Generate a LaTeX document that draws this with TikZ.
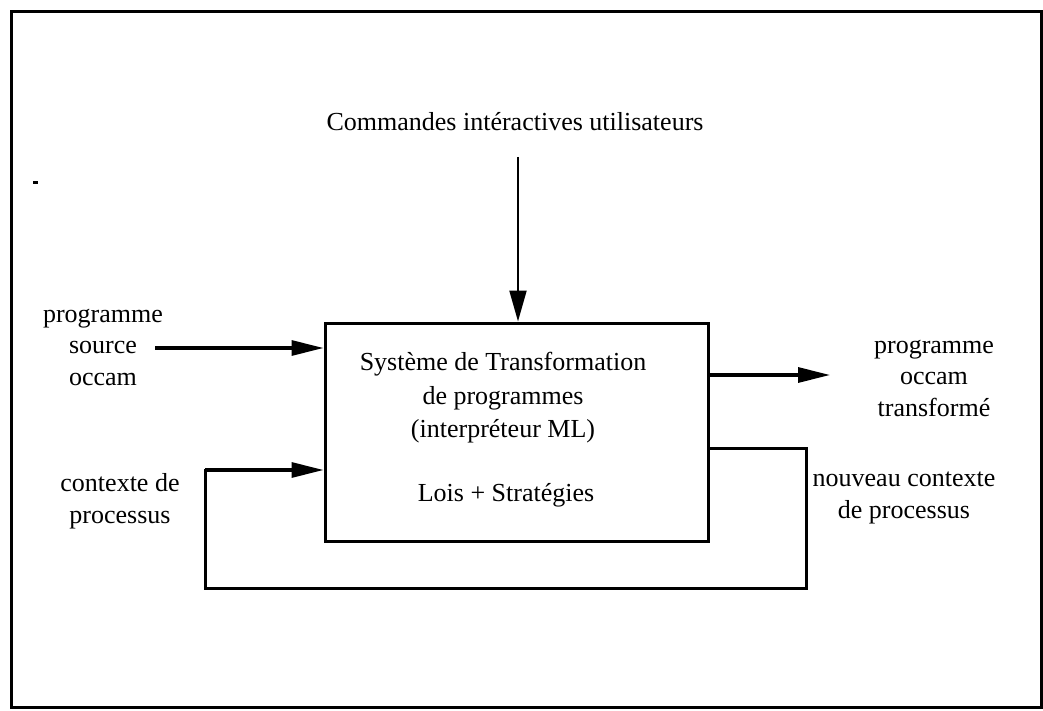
\documentclass[tikz,border=0pt]{standalone}
\usepackage{fontspec}
\setmainfont{Liberation Serif}
\usetikzlibrary{arrows.meta}
\begin{document}
\begin{tikzpicture}[x=1pt,y=-1pt,
  lbl/.style={inner sep=0pt, align=center, font=\fontsize{26}{31.5}\selectfont},
  boxtxt/.style={inner sep=0pt, align=center, font=\fontsize{26}{33.5}\selectfont},
  flow/.style={line width=3.2pt, -{Triangle[length=32pt,width=15pt]}},
  wire/.style={line width=3pt, line join=miter}]
\useasboundingbox (0,0) rectangle (1043,711);

% outer frame
\draw[line width=3pt] (11,12) rectangle (1041,707);
\fill (33,181) rectangle (38,184);

% transformation system
\node[draw, line width=3pt, minimum width=383pt, minimum height=218pt, inner sep=0pt] (sys) at (516.5,432) {};
\node[boxtxt] (systxt) at (503,398) {Système de Transformation\\de programmes\\(interpréteur ML)};
\node[boxtxt] (lois) at (506,495) {Lois + Stratégies};

% user commands
\node[lbl] (cmd) at (515,122) {Commandes intéractives utilisateurs};
\coordinate (cmdout) at (518,157);
\draw[line width=2.2pt, -{Triangle[length=31pt,width=17pt]}] (cmdout) -- (cmdout |- sys.north);

% source program
\node[lbl] (src) at (103,347) {programme\\source\\occam};
\coordinate (srcout) at (155,348);
\draw[flow] (srcout) -- (srcout -| sys.west);

% transformed program
\node[lbl] (dst) at (934,378) {programme\\occam\\transformé};
\coordinate (dstin) at (830,375);
\draw[flow] (dstin -| sys.east) -- (dstin);

% process context feedback loop
\node[lbl] (ctx) at (120,501) {contexte de\\processus};
\node[lbl] (nctx) at (904,498) {nouveau contexte\\de processus};
\coordinate (lpA) at (806,448);
\coordinate (lpB) at (806,588);
\coordinate (lpC) at (205,588);
\coordinate (lpD) at (205,470);
\draw[wire] (lpA -| sys.east) -- (lpA) -- (lpB) -- (lpC) -- (lpD) -- ([xshift=-31pt]lpD -| sys.west);
\draw[flow] (lpD) -- (lpD -| sys.west);
\end{tikzpicture}
\end{document}
